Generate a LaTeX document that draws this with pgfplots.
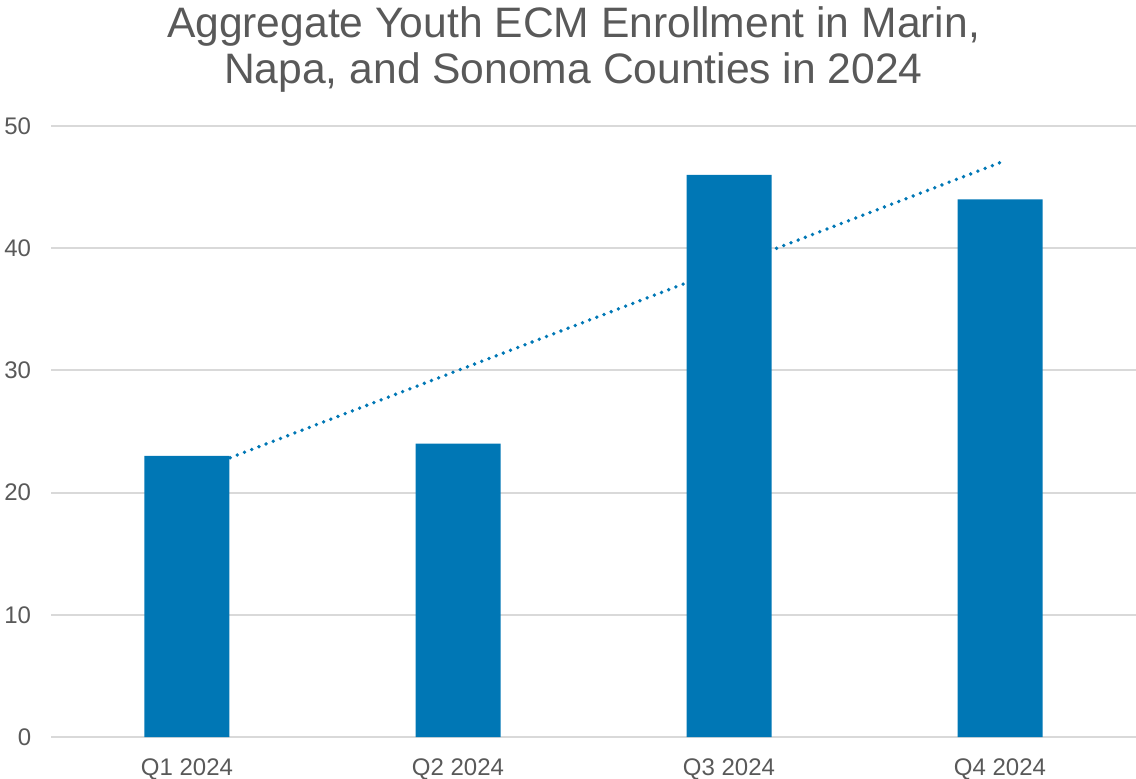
\documentclass[border=0pt]{standalone}
\usepackage{fontspec}
\setmainfont{Liberation Sans}
\usepackage{pgfplots}
\pgfplotsset{compat=1.18}
\definecolor{txt}{HTML}{595959}
\definecolor{gridc}{HTML}{D9D9D9}
\definecolor{barc}{HTML}{0077B5}
\begin{document}
\begin{tikzpicture}
\begin{axis}[
  scale only axis,
  width=542pt, height=305.5pt,
  at={(0,0)}, anchor=south west,
  xmin=-0.5, xmax=3.5,
  ymin=0, ymax=50,
  ytick={0,10,20,30,40,50},
  xtick={0,1,2,3},
  xticklabels={Q1 2024,Q2 2024,Q3 2024,Q4 2024},
  axis line style={draw=none},
  major tick length=0pt,
  ymajorgrids,
  major grid style={color=gridc, line width=1pt},
  /pgf/number format/assume math mode=true,
  ticklabel style={font=\fontsize{12}{14}\selectfont, text=txt, inner sep=0pt},
  yticklabel style={anchor=east, xshift=-10pt},
  xticklabel style={anchor=north, yshift=-10.5pt},
  clip=false,
]
\addplot[color=barc, line width=1.9pt, line cap=round, dash pattern=on 0pt off 3.85pt]
  coordinates {(0,21.5) (3,47)};
\addplot[ybar, bar width=42.5pt, fill=barc, draw=none]
  coordinates {(0,23) (1,24) (2,46) (3,44)};
\end{axis}
\node[anchor=base, text=txt, font=\fontsize{21.3}{24}\selectfont, inner sep=0pt] at (261pt,349.5pt) {Aggregate Youth ECM Enrollment in Marin,};
\node[anchor=base, text=txt, font=\fontsize{21.3}{24}\selectfont, inner sep=0pt] at (261pt,326.5pt) {Napa, and Sonoma Counties in 2024};
\pgfresetboundingbox
\path (-25.75pt,-20.5pt) rectangle (542.25pt,368.5pt);
\end{tikzpicture}
\end{document}
